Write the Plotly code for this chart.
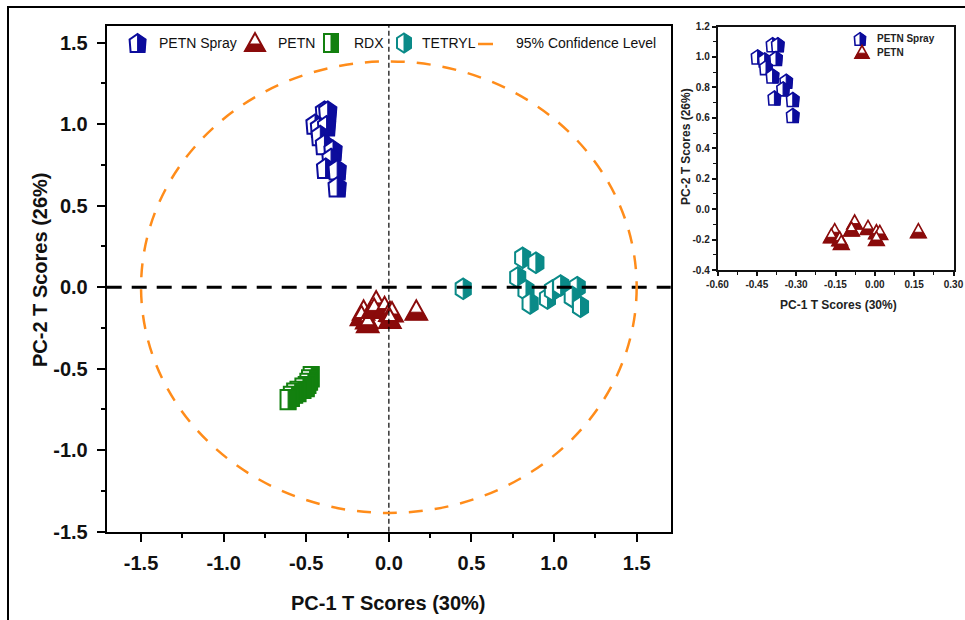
import plotly.graph_objects as go

# ---- PCA scores (PC-1, PC-2) ----
spray_pc1 = [-0.390, -0.370, -0.447, -0.420, -0.377, -0.415, -0.390, -0.338, -0.350, -0.383, -0.313, -0.313]
spray_pc2 = [1.080, 1.080, 1.000, 0.980, 0.990, 0.930, 0.875, 0.840, 0.790, 0.730, 0.720, 0.615]

petn_pc1 = [-0.153, -0.166, -0.134, -0.128, -0.077, -0.089, -0.026, 0.006, 0.019, 0.006, 0.166]
petn_pc2 = [-0.147, -0.180, -0.200, -0.224, -0.090, -0.136, -0.125, -0.154, -0.158, -0.198, -0.147]

rdx_pc1 = [-0.47, -0.48, -0.49, -0.50, -0.52, -0.55, -0.57, -0.59, -0.61]
rdx_pc2 = [-0.55, -0.57, -0.59, -0.61, -0.62, -0.64, -0.65, -0.67, -0.69]

tetryl_pc1 = [0.45, 0.81, 0.89, 0.78, 0.83, 0.855, 0.96, 0.99, 1.04, 1.14, 1.11, 1.16]
tetryl_pc2 = [-0.01, 0.18, 0.15, 0.06, -0.02, -0.10, -0.07, -0.02, 0.01, 0.00, -0.06, -0.12]

# 95 % confidence ellipse semi-axes
conf_a, conf_b = 1.5, 1.385

# tick labels
main_ticks = [-1.5, -1.0, -0.5, 0.0, 0.5, 1.0, 1.5]
main_ticktext = ["-1.5", "-1.0", "-0.5", "0.0", "0.5", "1.0", "1.5"]
inset_xticks = [-0.60, -0.45, -0.30, -0.15, 0.00, 0.15, 0.30]
inset_xticktext = ["-0.60", "-0.45", "-0.30", "-0.15", "0.00", "0.15", "0.30"]
inset_yticks = [-0.4, -0.2, 0.0, 0.2, 0.4, 0.6, 0.8, 1.0, 1.2]
inset_yticktext = ["-0.4", "-0.2", "0.0", "0.2", "0.4", "0.6", "0.8", "1.0", "1.2"]

BLUE = "#0c0c9c"
RED = "#8a0b0b"
GREEN = "#13800f"
TEAL = "#0a8a88"
ORANGE = "#ff8c1a"

W, H = 965, 620


def px(x):
    return x / W


def py(y):
    return 1 - y / H


# half-filled glyphs: (outline, filled half), pixel units, y up
GLYPHS = {
    "spray": ([(0, 9), (8, 3.5), (7, -9), (-7, -9), (-8, 3.5)],
              [(0, 9), (8, 3.5), (7, -9), (0, -9)]),
    "petn": ([(-10, -8), (10, -8), (0, 10)],
             [(-10, -8), (10, -8), (6.1, -1), (-6.1, -1)]),
    "rdx": ([(-7, -9), (7, -9), (7, 9), (-7, 9)],
            [(0, -9), (7, -9), (7, 9), (0, 9)]),
    "tetryl": ([(0, 9.5), (7, 5), (7, -5), (0, -9.5), (-7, -5), (-7, 5)],
               [(0, 9.5), (7, 5), (7, -5), (0, -9.5)]),
}
COLORS = {"spray": BLUE, "petn": RED, "rdx": GREEN, "tetryl": TEAL}


def poly(points, s):
    return "M " + " L ".join(f"{x * s:.2f},{y * s:.2f}" for x, y in points) + " Z"


def glyph(kind, x, y, xref, yref, s=1.0, lw=2.0):
    outline, half = GLYPHS[kind]
    c = COLORS[kind]
    base = dict(type="path", xref=xref, yref=yref, xsizemode="pixel", ysizemode="pixel",
                xanchor=x, yanchor=y, layer="above")
    return [
        dict(base, path=poly(outline, s), fillcolor="white", line=dict(color=c, width=lw)),
        dict(base, path=poly(half, s), fillcolor=c, line=dict(color=c, width=1)),
    ]


shapes = []
# main score plot
for kind, xs, ys in [("spray", spray_pc1, spray_pc2), ("petn", petn_pc1, petn_pc2),
                     ("rdx", rdx_pc1, rdx_pc2), ("tetryl", tetryl_pc1, tetryl_pc2)]:
    for x, y in zip(xs, ys):
        shapes += glyph(kind, x, y, "x", "y", 1.08)
# inset
for kind, xs, ys in [("spray", spray_pc1, spray_pc2), ("petn", petn_pc1, petn_pc2)]:
    for x, y in zip(xs, ys):
        shapes += glyph(kind, x, y, "x2", "y2", 0.78, 1.6)

# reference lines and confidence ellipse
shapes += [
    dict(type="line", xref="x domain", yref="y", x0=0, x1=1, y0=0, y1=0, layer="above",
         line=dict(color="black", width=3, dash="15px,10px")),
    dict(type="line", xref="x", yref="y domain", x0=0, x1=0, y0=0, y1=1, layer="above",
         line=dict(color="black", width=1.2, dash="5px,3px")),
    dict(type="circle", xref="x", yref="y", x0=-conf_a, x1=conf_a, y0=-conf_b, y1=conf_b,
         layer="above", line=dict(color=ORANGE, width=2.5, dash="14px,12px")),
]

# legend of the main plot
legend_items = [("spray", 137.6, 157, "PETN Spray"), ("petn", 255, 276, "PETN"),
                ("rdx", 331, 352, "RDX"), ("tetryl", 404, 420, "TETRYL")]
annotations = []
for kind, ix, tx, label in legend_items:
    shapes += glyph(kind, px(ix), py(43), "paper", "paper")
    annotations.append(dict(x=px(tx), y=py(43), xref="paper", yref="paper", text=label,
                            showarrow=False, xanchor="left", yanchor="middle",
                            font=dict(family="Arial", size=14, color="#111")))
shapes.append(dict(type="line", xref="paper", yref="paper", x0=px(478), x1=px(493),
                   y0=py(44), y1=py(44), line=dict(color=ORANGE, width=2.5)))
annotations.append(dict(x=px(514), y=py(43), xref="paper", yref="paper",
                        text="95% Confidence Level", showarrow=False, xanchor="left",
                        yanchor="middle", font=dict(family="Arial", size=14, color="#111")))

# legend of the inset
for kind, ix, iy, label in [("spray", 860, 39, "PETN Spray"), ("petn", 862, 52.5, "PETN")]:
    shapes += glyph(kind, px(ix), py(iy), "paper", "paper", 0.7, 1.6)
    annotations.append(dict(x=px(875), y=py(iy), xref="paper", yref="paper", text=label,
                            showarrow=False, xanchor="left", yanchor="middle",
                            font=dict(family="Arial", size=10, color="#222", weight="bold")))

# axis titles
title_font = dict(family="Arial", size=20, color="#111", weight="bold")
inset_title_font = dict(family="Arial", size=12, color="#222", weight="bold")
annotations += [
    dict(x=px(388.7), y=py(603), xref="paper", yref="paper", text="PC-1 T Scores (30%)",
         xanchor="center", yanchor="middle", showarrow=False, font=title_font),
    dict(x=px(40), y=py(270), xref="paper", yref="paper", text="PC-2 T Scores (26%)",
         textangle=-90, xanchor="center", yanchor="middle", showarrow=False, font=title_font),
    dict(x=px(838), y=py(305), xref="paper", yref="paper", text="PC-1 T Scores (30%)",
         xanchor="center", yanchor="middle", showarrow=False, font=inset_title_font),
    dict(x=px(686), y=py(147), xref="paper", yref="paper", text="PC-2 T Scores (26%)",
         textangle=-90, xanchor="center", yanchor="middle", showarrow=False,
         font=inset_title_font),
]

# outer frame
shapes.append(dict(type="rect", xref="paper", yref="paper", x0=px(8), x1=1.05, y0=-0.05,
                   y1=py(7), line=dict(color="black", width=2), fillcolor="rgba(0,0,0,0)"))

fig = go.Figure()

# hover layer carrying the score values
for name, xs, ys, xa, ya in [
    ("PETN Spray", spray_pc1, spray_pc2, "x", "y"), ("PETN", petn_pc1, petn_pc2, "x", "y"),
    ("RDX", rdx_pc1, rdx_pc2, "x", "y"), ("TETRYL", tetryl_pc1, tetryl_pc2, "x", "y"),
    ("PETN Spray", spray_pc1, spray_pc2, "x2", "y2"), ("PETN", petn_pc1, petn_pc2, "x2", "y2"),
]:
    fig.add_trace(go.Scatter(x=xs, y=ys, mode="markers", name=name, xaxis=xa, yaxis=ya,
                             marker=dict(size=14, opacity=0), showlegend=False))

main_axis = dict(showline=True, linecolor="black", linewidth=2, mirror=True,
                 ticks="outside", ticklen=8, tickwidth=2, tickcolor="black",
                 showgrid=False, zeroline=False, tickmode="array", automargin=False,
                 tickfont=dict(family="Arial", size=20, color="#111", weight="bold"),
                 minor=dict(ticks="outside", ticklen=4, tickwidth=2, tickcolor="black",
                            dtick=0.25, tick0=0))
inset_axis = dict(showline=True, linecolor="#111", linewidth=1.5, mirror=True,
                  ticks="outside", ticklen=4, tickwidth=1.5, tickcolor="#111",
                  showgrid=False, zeroline=False, tickmode="array", automargin=False,
                  tickfont=dict(family="Arial", size=10, color="#222", weight="bold"))

fig.update_layout(
    width=W, height=H,
    margin=dict(l=0, r=0, t=0, b=0, pad=0, autoexpand=False),
    paper_bgcolor="white", plot_bgcolor="white",
    showlegend=False,
    xaxis=dict(main_axis, domain=[px(106.7), px(670.7)], range=[-1.708, 1.706], anchor="y",
               tickvals=main_ticks, ticktext=main_ticktext, ticklabelstandoff=4),
    yaxis=dict(main_axis, domain=[py(531.7), py(26)], range=[-1.5, 1.602], anchor="x",
               tickvals=main_ticks, ticktext=main_ticktext, ticklabelstandoff=5),
    xaxis2=dict(inset_axis, domain=[px(717.5), px(953.5)], range=[-0.6, 0.3], anchor="y2",
                tickvals=inset_xticks, ticktext=inset_xticktext,
                minor=dict(ticks="outside", ticklen=3, tickwidth=1, tickcolor="#111",
                           dtick=0.075, tick0=0)),
    yaxis2=dict(inset_axis, domain=[py(270), py(26.5)], range=[-0.4, 1.2], anchor="x2",
                tickvals=inset_yticks, ticktext=inset_yticktext,
                minor=dict(ticks="outside", ticklen=3, tickwidth=1, tickcolor="#111",
                           dtick=0.1, tick0=0)),
    shapes=shapes,
    annotations=annotations,
)

fig.write_html("out.html")
